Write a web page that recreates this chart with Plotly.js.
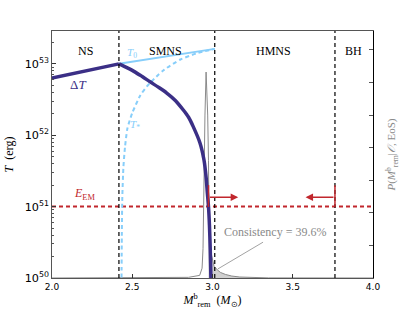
<!DOCTYPE html>
<html><head><meta charset="utf-8">
<script src="https://cdn.plot.ly/plotly-3.0.1.min.js"></script>
<style>body{margin:0;background:#fff}#c{width:415px;height:310px}</style>
</head><body><div id="c"></div>
<script>
// Region boundaries (M_rem^b, Msun) and labels
const boundaries = [2.417, 3.014, 3.763];
const regionNames = ['NS', 'SMNS', 'HMNS', 'BH'];
const regionCenters = [2.21, 2.71, 3.38, 3.88];

// Delta T (erg)
const dTM = [2.0, 2.417, 2.46, 2.5, 2.55, 2.611, 2.66, 2.715, 2.77, 2.818, 2.85, 2.88, 2.922, 2.947, 2.96, 2.968, 2.975, 2.981, 2.986, 2.99, 2.993];
const dTV = [6.3e52, 1.0e53, 9.0e52, 8.1e52, 6.9e52, 5.6e52, 4.75e52, 3.9e52, 3.05e52, 2.26e52, 1.8e52, 1.32e52, 7.8e51, 4.5e51, 2.6e51, 1.55e51, 1.0e51, 5.5e50, 2.5e50, 1.0e50, 5e49];

// T0
const t0M = [2.417, 3.014];
const t0V = [1.0e53, 1.62e53];

// T* (dotted)
const tsM = [2.433, 2.435, 2.438, 2.445, 2.455, 2.47, 2.5, 2.55, 2.59, 2.65, 2.7, 2.8, 2.9, 3.014];
const tsV = [8e49, 4e50, 1.35e51, 3.6e51, 6.9e51, 1.25e52, 2.05e52, 3.6e52, 4.8e52, 6.6e52, 8.3e52, 1.15e53, 1.4e53, 1.62e53];

// E_EM
const eEM = 1e51;

// Posterior P(M|O,EoS)
const pM = [2.0, 2.70, 2.85, 2.92, 2.935, 2.941, 2.947, 2.953, 2.960, 2.965, 2.970, 2.975, 2.978, 2.985, 3.0, 3.01, 3.03, 3.05, 3.08, 3.12, 3.17, 3.25, 3.35, 4.0];
const pV = [0, 0.003, 0.02, 0.08, 0.3, 0.9, 3.6, 5.0, 6.32, 5.8, 5.0, 3.6, 1.6, 0.9, 0.5, 0.36, 0.25, 0.17, 0.11, 0.06, 0.03, 0.012, 0.003, 0];
const consistencyStart = 2.975;
const consistencyText = 'Consistency = 39.6%';

// Arrows (range indicators)
const arrowFrom = [2.975, 3.763];
const arrowTo = [3.16, 3.58];

const fillM = [], fillV = [];
pM.forEach((m, i) => { if (m >= consistencyStart && m <= boundaries[2]) { fillM.push(m); fillV.push(pV[i]); } });

const indigo = '#3b2f86', light = '#87cefa', red = '#c1272d', gray = '#8a8a8a';

const traces = [
  {x: fillM, y: fillV, yaxis: 'y', mode: 'lines', line: {width: 0}, fill: 'tozeroy', fillcolor: '#d0d0d0', hoverinfo: 'skip'},
  {x: pM, y: pV, yaxis: 'y', mode: 'lines', line: {color: gray, width: 1}},
  {x: [2.0, 4.0], y: [eEM, eEM], yaxis: 'y2', mode: 'lines', line: {color: red, width: 2, dash: '4px,3px'}},
  {x: tsM, y: tsV, yaxis: 'y2', mode: 'lines', line: {color: light, width: 2, dash: '4px,3px', shape: 'spline', smoothing: 0.6}},
  {x: t0M, y: t0V, yaxis: 'y2', mode: 'lines', line: {color: light, width: 2}},
  {x: dTM.slice(0, 2), y: dTV.slice(0, 2), yaxis: 'y2', mode: 'lines', line: {color: indigo, width: 3.5}},
  {x: dTM.slice(1), y: dTV.slice(1), yaxis: 'y2', mode: 'lines', line: {color: indigo, width: 3.5, shape: 'spline', smoothing: 0.8}}
];

const shapes = boundaries.map(b => ({type: 'line', xref: 'x', yref: 'paper', x0: b, x1: b, y0: 0, y1: 1, line: {color: '#000', width: 1.2, dash: '4px,3px'}}));
arrowFrom.forEach(a => shapes.push({type: 'line', xref: 'x', yref: 'y', x0: a, x1: a, y0: 2.18, y1: 2.85, line: {color: red, width: 1.5}}));
shapes.push({type: 'line', xref: 'x', yref: 'y', x0: 3.315, y0: 1.10, x1: 3.034, y1: 0.28, line: {color: gray, width: 0.8}});

const annotations = regionNames.map((n, i) => ({x: regionCenters[i], y: 0.955, xref: 'x', yref: 'paper', text: n, showarrow: false, font: {family: 'Liberation Serif', size: 12, color: '#000'}}));
annotations.push(
  {x: 2.5, y: Math.log10(1.42e53), xref: 'x', yref: 'y2', text: '<i>T</i><sub>0</sub>', showarrow: false, font: {family: 'Liberation Serif', size: 11, color: light}},
  {x: 2.515, y: Math.log10(1.4e52), xref: 'x', yref: 'y2', text: '<i>T</i><sub>*</sub>', showarrow: false, font: {family: 'Liberation Serif', size: 11, color: light}},
  {x: 2.16, y: Math.log10(5.1e52), xref: 'x', yref: 'y2', text: 'Δ<i>T</i>', showarrow: false, font: {family: 'Liberation Serif', size: 13, color: indigo}},
  {x: 2.2, y: Math.log10(1.5e51), xref: 'x', yref: 'y2', text: '<i>E</i><sub>EM</sub>', showarrow: false, font: {family: 'Liberation Serif', size: 12, color: red}},
  {x: 3.39, y: 1.41, xref: 'x', yref: 'y', text: consistencyText, showarrow: false, font: {family: 'Liberation Serif', size: 12, color: gray}}
);
arrowFrom.forEach((a, i) => annotations.push({x: arrowTo[i], y: 2.48, ax: a, ay: 2.48, xref: 'x', yref: 'y', axref: 'x', ayref: 'y', text: '', showarrow: true, arrowhead: 2, arrowsize: 1, arrowwidth: 1.5, arrowcolor: red}));

const tickFont = {family: 'DejaVu Sans', size: 9, color: '#000'};
const layout = {
  width: 415, height: 310,
  margin: {l: 52, r: 42, t: 31, b: 32},
  paper_bgcolor: '#fff', plot_bgcolor: '#fff',
  showlegend: false,
  xaxis: {range: [2.0, 4.0], dtick: 0.5, tickformat: '.1f', ticks: 'inside', ticklen: 4, tickcolor: '#333', showgrid: false, zeroline: false,
    showline: true, linecolor: '#555', linewidth: 1.2, mirror: true, tickfont: tickFont,
    title: {text: '<i>M</i><sup>b</sup><sub>rem</sub>  (<i>M</i><sub>⊙</sub>)', font: {family: 'Liberation Serif', size: 12, color: '#000'}, standoff: 4}},
  yaxis: {range: [0, 7.58], dtick: 1, side: 'right', ticks: 'inside', ticklen: 4, tickcolor: '#555', showticklabels: false, showgrid: false, zeroline: false,
    showline: true, linecolor: '#000', linewidth: 1.2,
    title: {text: '<i>P</i>(<i>M</i><sup>b</sup><sub>rem</sub>|<i>𝒪</i>, EoS)', font: {family: 'Liberation Serif', size: 11, color: gray}, standoff: 14}},
  yaxis2: {type: 'log', range: [50, 53.46], overlaying: 'y', side: 'left', dtick: 1, exponentformat: 'power', ticks: 'inside', ticklen: 4, tickcolor: '#333',
    minor: {ticks: 'inside', ticklen: 2, tickcolor: '#555', dtick: 'D1'},
    showgrid: false, zeroline: false, showline: true, linecolor: '#555', linewidth: 1.2, tickfont: tickFont,
    title: {text: '<i>T</i>  (erg)', font: {family: 'Liberation Serif', size: 12, color: '#000'}, standoff: 8}},
  shapes: shapes,
  annotations: annotations
};
Plotly.newPlot('c', traces, layout, {displayModeBar: false, staticPlot: true});
</script></body></html>
